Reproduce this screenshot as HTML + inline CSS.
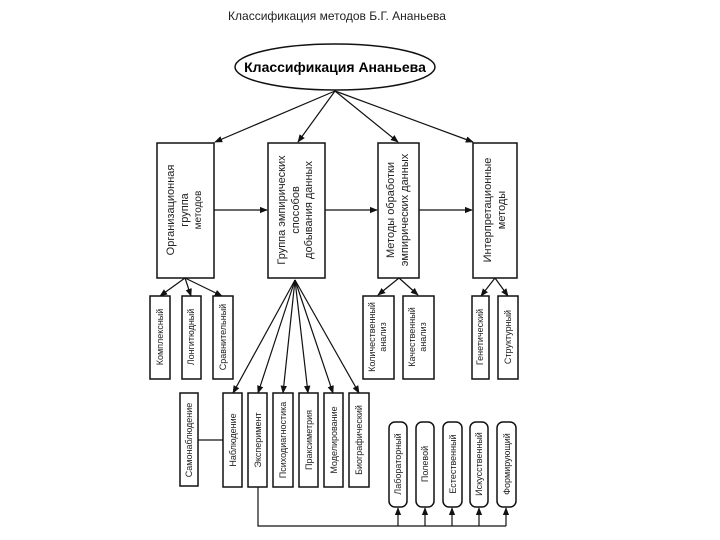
<!DOCTYPE html>
<html><head><meta charset="utf-8"><style>body{margin:0;background:#fff}svg{display:block}</style></head><body>
<svg width="720" height="540" viewBox="0 0 720 540" xmlns="http://www.w3.org/2000/svg" font-family="Liberation Sans, DejaVu Sans, sans-serif">
<defs><marker id="a" viewBox="0 0 10 10" refX="9" refY="5" markerWidth="8" markerHeight="8" orient="auto-start-reverse" markerUnits="userSpaceOnUse"><path d="M0,1 L10,5 L0,9 z" fill="#111"/></marker></defs>
<text x="337" y="20" font-size="12" text-anchor="middle" fill="#222">Классификация методов Б.Г. Ананьева</text>
<ellipse cx="335" cy="67" rx="100" ry="23" fill="#fff" stroke="#111" stroke-width="1.5"/>
<text x="335" y="72" font-size="14" font-weight="bold" text-anchor="middle">Классификация Ананьева</text>
<g stroke="#111" stroke-width="1.2" fill="none" marker-end="url(#a)">
<line x1="335" y1="91" x2="215" y2="142"/><line x1="335" y1="91" x2="298" y2="142"/>
<line x1="335" y1="91" x2="398" y2="142"/><line x1="335" y1="91" x2="473" y2="142"/>
<line x1="214" y1="210" x2="267" y2="210"/><line x1="325" y1="210" x2="377" y2="210"/><line x1="419" y1="210" x2="472" y2="210"/>
<line x1="185" y1="278" x2="160" y2="296"/><line x1="185" y1="278" x2="191" y2="296"/><line x1="185" y1="278" x2="222" y2="296"/>
<line x1="399" y1="278" x2="378" y2="295"/><line x1="399" y1="278" x2="418" y2="295"/>
<line x1="495" y1="278" x2="481" y2="296"/><line x1="495" y1="278" x2="508" y2="296"/>
<line x1="295" y1="280" x2="233" y2="393"/><line x1="295" y1="280" x2="258" y2="393"/><line x1="295" y1="280" x2="283" y2="393"/>
<line x1="295" y1="280" x2="308" y2="393"/><line x1="295" y1="280" x2="333" y2="393"/><line x1="295" y1="280" x2="359" y2="393"/>
<line x1="398" y1="526" x2="398" y2="508"/><line x1="425" y1="526" x2="425" y2="508"/><line x1="452" y1="526" x2="452" y2="508"/><line x1="479" y1="526" x2="479" y2="508"/><line x1="506" y1="526" x2="506" y2="508"/>
</g>
<g stroke="#111" stroke-width="1.2" fill="none">
<polyline points="258,487 258,526 506,526"/><line x1="198" y1="440" x2="223" y2="440"/>
</g>
<g stroke="#111" stroke-width="1.5" fill="#fff">
<rect x="157" y="143" width="57" height="135"/><rect x="268" y="143" width="57" height="135"/>
<rect x="378" y="143" width="41" height="135"/><rect x="473" y="143" width="44" height="135"/>
<rect x="150" y="296" width="20" height="83"/><rect x="182" y="296" width="19" height="83"/><rect x="213" y="296" width="20" height="83"/>
<rect x="363" y="296" width="31" height="83"/><rect x="403" y="296" width="31" height="83"/>
<rect x="472" y="296" width="17" height="83"/><rect x="498" y="296" width="20" height="83"/>
<rect x="180" y="393" width="18" height="93"/>
<rect x="223" y="393" width="19" height="94"/><rect x="248" y="393" width="19" height="94"/><rect x="273" y="393" width="20" height="94"/>
<rect x="299" y="393" width="19" height="94"/><rect x="324" y="393" width="19" height="94"/><rect x="349" y="393" width="20" height="94"/>
<rect x="389" y="422" width="18" height="85" rx="6"/><rect x="416" y="422" width="18" height="85" rx="6"/><rect x="443" y="422" width="19" height="85" rx="6"/>
<rect x="470" y="422" width="18" height="85" rx="6"/><rect x="497" y="422" width="19" height="85" rx="6"/>
</g>
<g font-size="11" text-anchor="middle" fill="#222">
<text transform="translate(185,210) rotate(-90)"><tspan x="0" y="-11">Организационная</tspan><tspan x="0" y="3">группа</tspan><tspan x="0" y="16" font-size="10">методов</tspan></text>
<text transform="translate(296,210) rotate(-90)"><tspan x="0" y="-11">Группа эмпирических</tspan><tspan x="0" y="3">способов</tspan><tspan x="0" y="16">добывания данных</tspan></text>
<text transform="translate(398,210) rotate(-90)"><tspan x="0" y="-4">Методы обработки</tspan><tspan x="0" y="10">эмпирических данных</tspan></text>
<text transform="translate(495,210) rotate(-90)"><tspan x="0" y="-4">Интерпретационные</tspan><tspan x="0" y="10">методы</tspan></text>
</g>
<g font-size="9" text-anchor="middle" fill="#222">
<text transform="translate(163,337) rotate(-90)">Комплексный</text>
<text transform="translate(194,337) rotate(-90)">Лонгитюдный</text>
<text transform="translate(226,337) rotate(-90)">Сравнительный</text>
<text transform="translate(378,337) rotate(-90)"><tspan x="0" y="-3">Количественный</tspan><tspan x="0" y="8">анализ</tspan></text>
<text transform="translate(418,337) rotate(-90)"><tspan x="0" y="-3">Качественный</tspan><tspan x="0" y="8">анализ</tspan></text>
<text transform="translate(483,337) rotate(-90)">Генетический</text>
<text transform="translate(511,337) rotate(-90)">Структурный</text>
<text transform="translate(192,440) rotate(-90)">Самонаблюдение</text>
<text transform="translate(236,440) rotate(-90)">Наблюдение</text>
<text transform="translate(261,440) rotate(-90)">Эксперимент</text>
<text transform="translate(286,440) rotate(-90)">Психодиагностика</text>
<text transform="translate(312,440) rotate(-90)">Праксиметрия</text>
<text transform="translate(337,440) rotate(-90)">Моделирование</text>
<text transform="translate(362,440) rotate(-90)">Биографический</text>
<text transform="translate(401,464) rotate(-90)">Лабораторный</text>
<text transform="translate(428,464) rotate(-90)">Полевой</text>
<text transform="translate(456,464) rotate(-90)">Естественный</text>
<text transform="translate(482,464) rotate(-90)">Искусственный</text>
<text transform="translate(510,464) rotate(-90)">Формирующий</text>
</g>
</svg>
</body></html>
